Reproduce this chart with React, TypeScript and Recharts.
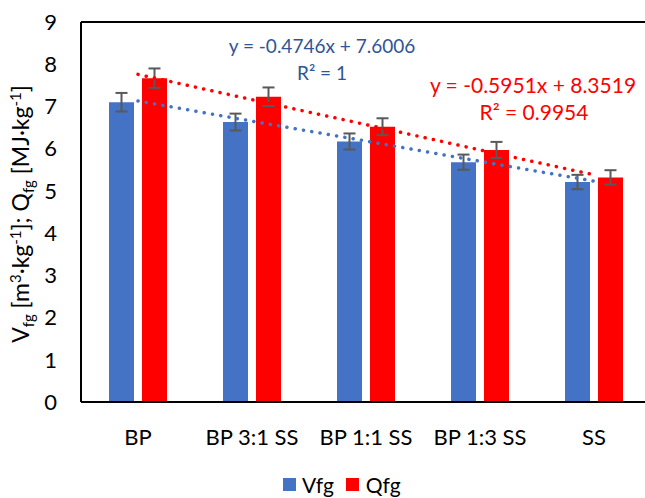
import React from "react";
import {
  ComposedChart,
  Bar,
  Line,
  XAxis,
  YAxis,
  ErrorBar,
  ReferenceLine,
} from "recharts";

const categories = ["BP", "BP 3:1 SS", "BP 1:1 SS", "BP 1:3 SS", "SS"];
const vfgValues = [7.1, 6.63, 6.17, 5.68, 5.21];
const vfgErrors = [0.22, 0.2, 0.19, 0.18, 0.17];
const qfgValues = [7.67, 7.23, 6.52, 5.97, 5.32];
const qfgErrors = [0.23, 0.22, 0.2, 0.19, 0.17];
// trendline points read at each category
const vfgTrend = [7.13, 6.65, 6.18, 5.7, 5.23];
const qfgTrend = [7.76, 7.16, 6.57, 5.97, 5.38];
const yTicks = [0, 1, 2, 3, 4, 5, 6, 7, 8, 9];

const BLUE = "#4472C4";
const RED = "#FF0000";
const FONT = "Lato, 'Open Sans', sans-serif";

const data = categories.map((name, i) => ({
  name,
  vfg: vfgValues[i],
  vfgErr: vfgErrors[i],
  qfg: qfgValues[i],
  qfgErr: qfgErrors[i],
  vfgTrend: vfgTrend[i],
  qfgTrend: qfgTrend[i],
}));

const YTitle = () => (
  <text
    transform="translate(29,214) rotate(-90)"
    textAnchor="middle"
    fontSize={23}
    fontFamily={FONT}
    fill="#000"
  >
    V<tspan dy={5} fontSize={15}>fg</tspan>
    <tspan dy={-5}> [m</tspan>
    <tspan dy={-8} fontSize={15}>3</tspan>
    <tspan dy={8}>·kg</tspan>
    <tspan dy={-8} fontSize={15}>-1</tspan>
    <tspan dy={8}>]; Q</tspan>
    <tspan dy={5} fontSize={15}>fg</tspan>
    <tspan dy={-5}> [MJ·kg</tspan>
    <tspan dy={-8} fontSize={15}>-1</tspan>
    <tspan dy={8}>]</tspan>
  </text>
);

export default function App() {
  return (
    <div
      style={{
        position: "relative",
        width: 645,
        height: 498,
        overflow: "hidden",
        background: "#fff",
        fontFamily: FONT,
      }}
    >
      <style>{`body{margin:0}`}</style>
      <ComposedChart
        width={660}
        height={498}
        data={data}
        margin={{ top: 22, right: 9, bottom: 36, left: 0 }}
        barSize={25}
        barGap={8}
      >
        <XAxis
          dataKey="name"
          axisLine={{ stroke: "#000", strokeWidth: 2 }}
          tickLine={false}
          tickSize={0}
          tickMargin={27}
          height={60}
          tick={{ fill: "#000", fontSize: 22, fontFamily: FONT }}
          interval={0}
        />
        <YAxis
          domain={[0, 9]}
          ticks={yTicks}
          width={81}
          axisLine={{ stroke: "#000", strokeWidth: 2 }}
          tickLine={false}
          tickSize={0}
          tickMargin={24}
          tick={{ fill: "#000", fontSize: 22, fontFamily: FONT }}
          label={{ content: () => <YTitle /> }}
        />
        <ReferenceLine y={9} stroke="#000" strokeWidth={2} />
        <Bar dataKey="vfg" fill={BLUE} isAnimationActive={false}>
          <ErrorBar dataKey="vfgErr" width={6} stroke="#595959" strokeWidth={2} />
        </Bar>
        <Bar dataKey="qfg" fill={RED} isAnimationActive={false}>
          <ErrorBar dataKey="qfgErr" width={6} stroke="#595959" strokeWidth={2} />
        </Bar>
        <Line
          dataKey="vfgTrend"
          stroke={BLUE}
          strokeWidth={3.5}
          strokeDasharray="0.1 8.3"
          strokeLinecap="round"
          dot={false}
          activeDot={false}
          isAnimationActive={false}
        />
        <Line
          dataKey="qfgTrend"
          stroke={RED}
          strokeWidth={3.5}
          strokeDasharray="0.1 8.3"
          strokeLinecap="round"
          dot={false}
          activeDot={false}
          isAnimationActive={false}
        />
        <text x={322} y={53} textAnchor="middle" fontSize={19} fontFamily={FONT} fill="#2F5597">
          y = -0.4746x + 7.6006
        </text>
        <text x={322} y={80} textAnchor="middle" fontSize={19} fontFamily={FONT} fill="#2F5597">
          R² = 1
        </text>
        <text x={533} y={93} textAnchor="middle" fontSize={21} fontFamily={FONT} fill={RED}>
          y = -0.5951x + 8.3519
        </text>
        <text x={534} y={120} textAnchor="middle" fontSize={21} fontFamily={FONT} fill={RED}>
          R² = 0.9954
        </text>
      </ComposedChart>
      <div
        style={{
          position: "absolute",
          left: 283,
          top: 472,
          display: "flex",
          alignItems: "center",
          fontSize: 21,
          color: "#000",
          lineHeight: "25px",
        }}
      >
        <span style={{ width: 13, height: 13, background: BLUE, display: "inline-block", marginRight: 6 }} />
        <span style={{ marginRight: 12 }}>Vfg</span>
        <span style={{ width: 13, height: 13, background: RED, display: "inline-block", marginRight: 7 }} />
        <span>Qfg</span>
      </div>
    </div>
  );
}
